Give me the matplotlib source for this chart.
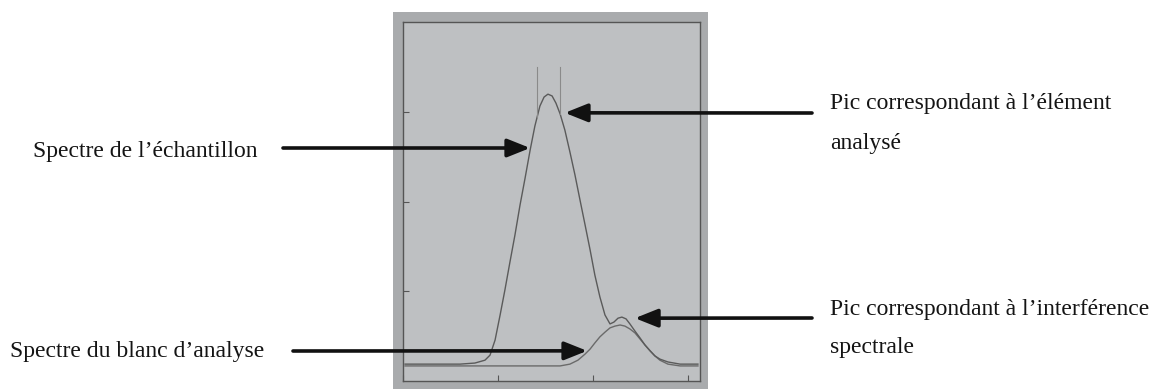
import matplotlib.pyplot as plt
from matplotlib.patches import Rectangle

# spectrum of the sample (wavelength index, signal)
sample_x = [0.7, 9.1, 19.2, 24.2, 27.6, 29.3, 31.0, 32.7, 34.3, 36.0, 37.7, 39.4,
            41.1, 42.8, 44.4, 46.1, 47.5, 48.8, 50.2, 51.5, 52.9, 54.5, 56.2, 57.9,
            59.6, 61.3, 63.0, 64.6, 66.3, 68.0, 69.7, 71.0, 72.4, 73.7, 75.1, 76.4,
            78.1, 79.8, 81.5, 83.2, 84.8, 86.5, 89.2, 93.3, 99.3]
sample_y = [4.7, 4.7, 4.7, 5.0, 5.8, 7.2, 11.4, 18.4, 25.3, 33.1, 40.7, 49.0,
            56.5, 64.3, 71.0, 76.6, 79.1, 79.9, 79.4, 77.4, 74.4, 69.9, 63.8, 57.4,
            50.4, 43.5, 36.5, 29.5, 23.4, 18.4, 15.9, 16.4, 17.5, 17.8, 17.3, 15.9,
            13.9, 12.0, 10.0, 8.4, 7.0, 6.1, 5.3, 4.7, 4.7]

# spectrum of the analytical blank
blank_x = [0.7, 26.0, 52.9, 56.2, 58.9, 61.3, 63.0, 64.6, 66.3, 68.0, 69.7, 71.4,
           73.1, 74.7, 76.4, 78.1, 79.8, 81.5, 83.2, 84.8, 86.5, 89.2, 93.3, 99.3]
blank_y = [4.2, 4.2, 4.2, 4.7, 5.8, 7.5, 8.9, 10.6, 12.3, 13.6, 14.8, 15.3,
           15.6, 15.3, 14.5, 13.4, 11.7, 10.0, 8.4, 7.0, 5.8, 4.7, 4.2, 4.2]

# integration window around the analyte peak
window_x = [45.1, 52.9]
window_top = 87.5
window_bottom = [73.5, 74.4]

W, H = 1158, 389
fig = plt.figure(figsize=(W / 100, H / 100), dpi=100)
fig.patch.set_facecolor('white')

def fx(px):
    return px / W

def fy(py):
    return 1 - py / H

# grey backing of the instrument screen
fig.patches.append(Rectangle((fx(393), 0), fx(708) - fx(393), fy(12),
                             transform=fig.transFigure, facecolor='#a9abad',
                             edgecolor='none', zorder=-1))

ax = fig.add_axes([fx(403), fy(381), fx(700) - fx(403), fy(22) - fy(381)])
ax.set_zorder(1)
ax.set_facecolor('#bec0c2')
ax.set_xlim(0, 100)
ax.set_ylim(0, 100)
for s in ax.spines.values():
    s.set_color('#555555')
    s.set_linewidth(1.0)
ax.set_xticks([0, 32, 64, 96])
ax.set_yticks([25, 50, 75])
ax.tick_params(direction='in', length=4, color='#555555',
               labelbottom=False, labelleft=False)

ax.plot(blank_x, blank_y, color='#6a6a6a', lw=1.0)
ax.plot(sample_x, sample_y, color='#5a5a5a', lw=1.0)
for xv, yb in zip(window_x, window_bottom):
    ax.plot([xv, xv], [yb, window_top], color='#8a8a8a', lw=0.8)

serif = 'Liberation Serif'
fs = 17
txt = dict(family=serif, fontsize=fs, color='#141414', va='center', ha='left')
fig.text(fx(33), fy(152), 'Spectre de l’échantillon', **txt)
fig.text(fx(10), fy(351), 'Spectre du blanc d’analyse', **txt)
fig.text(fx(830), fy(103), 'Pic correspondant à l’élément', **txt)
fig.text(fx(830), fy(143), 'analysé', **txt)
fig.text(fx(830), fy(310), 'Pic correspondant à l’interférence', **txt)
fig.text(fx(830), fy(347), 'spectrale', **txt)

arrow = dict(arrowstyle='-|>,head_length=0.55,head_width=0.22', color='#111111',
             lw=2.6, mutation_scale=25, shrinkA=0, shrinkB=0)
# (tip in data coords, tail in figure pixels from top-left)
arrows = [((42.8, 64.9), (283, 148)),
          ((54.5, 74.7), (812, 113)),
          ((78.1, 17.5), (812, 318)),
          ((62.0, 8.4), (293, 351))]
for tip, tail in arrows:
    ax.annotate('', xy=tip, xycoords='data',
                xytext=(fx(tail[0]), fy(tail[1])), textcoords='figure fraction',
                arrowprops=arrow, annotation_clip=False)

fig.savefig('out.png', dpi=100)
